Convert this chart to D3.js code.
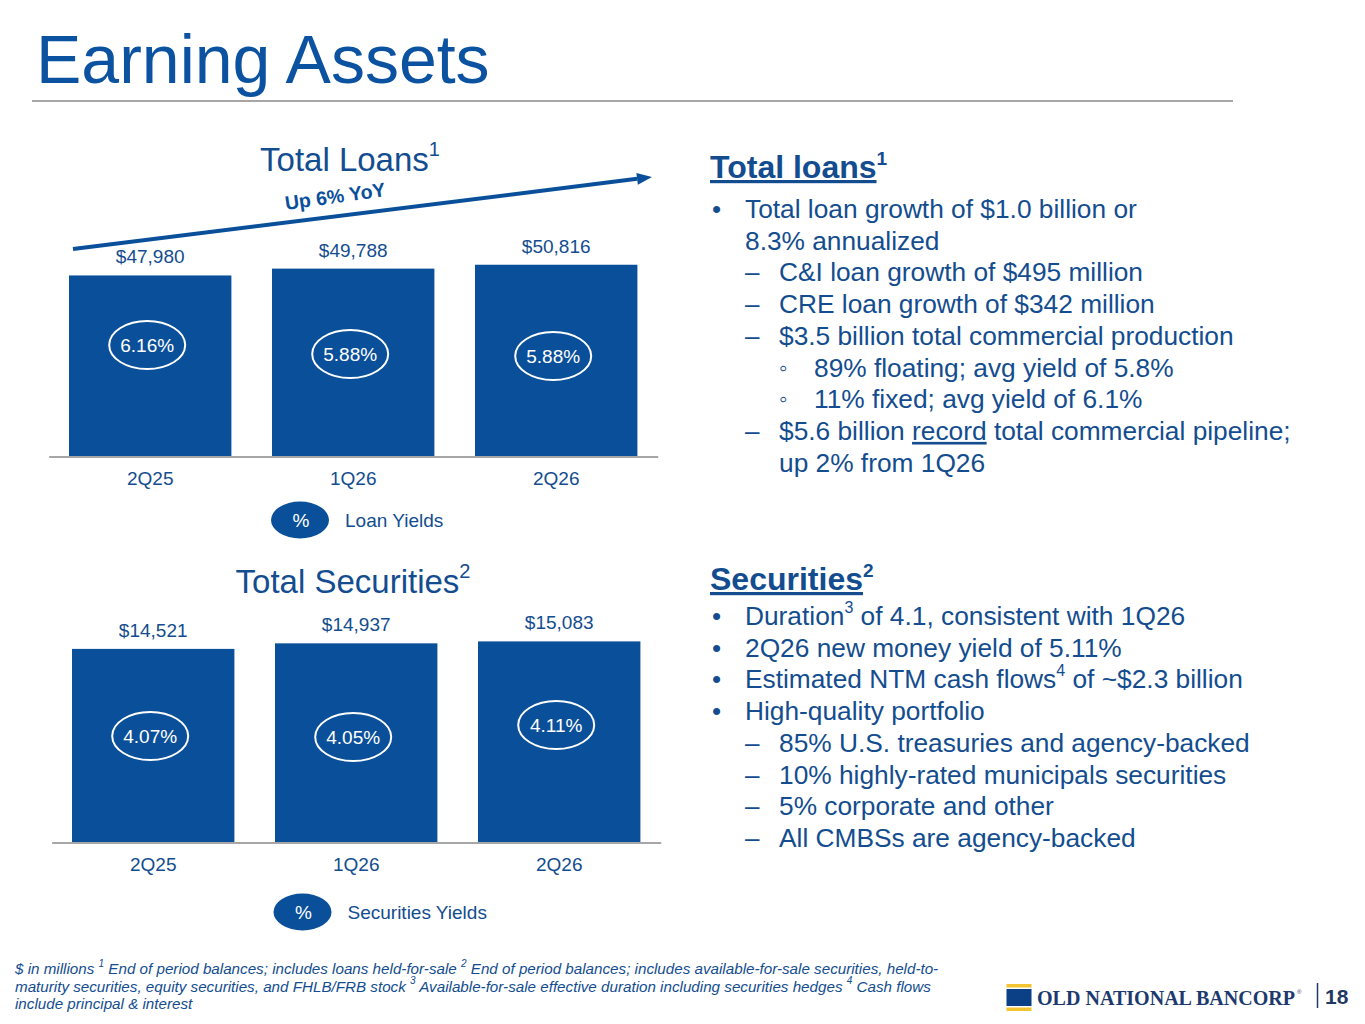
<!DOCTYPE html>
<html><head><meta charset="utf-8">
<script src="https://cdn.jsdelivr.net/npm/d3@7/dist/d3.min.js"></script>
<style>
html,body{margin:0;padding:0;background:#fff;}
svg{display:block;font-family:"Liberation Sans",Arial,sans-serif;}
</style></head>
<body>
<svg id="c" width="1365" height="1024"></svg>
<script>
// ---------- DATA ----------
const categories = ["2Q25", "1Q26", "2Q26"];
const loanValues = [47980, 49788, 50816];
const loanYields = [6.16, 5.88, 5.88];
const securitiesValues = [14521, 14937, 15083];
const securitiesYields = [4.07, 4.05, 4.11];
const growthLabel = "Up 6% YoY";

const loanBullets = [
  {lvl:0, parts:[["Total loan growth of $1.0 billion or"]]},
  {lvl:0, cont:true, parts:[["8.3% annualized"]]},
  {lvl:1, parts:[["C&I loan growth of $495 million"]]},
  {lvl:1, parts:[["CRE loan growth of $342 million"]]},
  {lvl:1, parts:[["$3.5 billion total commercial production"]]},
  {lvl:2, parts:[["89% floating; avg yield of 5.8%"]]},
  {lvl:2, parts:[["11% fixed; avg yield of 6.1%"]]},
  {lvl:1, parts:[["$5.6 billion "],["record","u"],[" total commercial pipeline;"]]},
  {lvl:1, cont:true, parts:[["up 2% from 1Q26"]]}
];
const securitiesBullets = [
  {lvl:0, parts:[["Duration"],["3","sup"],[" of 4.1, consistent with 1Q26"]]},
  {lvl:0, parts:[["2Q26 new money yield of 5.11%"]]},
  {lvl:0, parts:[["Estimated NTM cash flows"],["4","sup"],[" of ~$2.3 billion"]]},
  {lvl:0, parts:[["High-quality portfolio"]]},
  {lvl:1, parts:[["85% U.S. treasuries and agency-backed"]]},
  {lvl:1, parts:[["10% highly-rated municipals securities"]]},
  {lvl:1, parts:[["5% corporate and other"]]},
  {lvl:1, parts:[["All CMBSs are agency-backed"]]}
];
const footnoteLines = [
  [["$ in millions "],["1","sup"],[" End of period balances; includes loans held-for-sale "],["2","sup"],[" End of period balances; includes available-for-sale securities, held-to-"]],
  [["maturity securities, equity securities, and FHLB/FRB stock "],["3","sup"],[" Available-for-sale effective duration including securities hedges "],["4","sup"],[" Cash flows"]],
  [["include principal & interest"]]
];

// ---------- STYLE ----------
const BLUE = "#0A4F9A";
const TXT = "#134D8F";
const GRAY = "#A6A6A6";

const svg = d3.select("#c");

// Title
svg.append("text").attr("x", 36).attr("y", 83).attr("font-size", 68)
  .attr("fill", "#0B52A0").text("Earning Assets");
svg.append("line").attr("x1", 32).attr("x2", 1233).attr("y1", 101).attr("y2", 101)
  .attr("stroke", GRAY).attr("stroke-width", 2);

function addParts(textSel, parts, supSize) {
  let pending = 0;
  parts.forEach(p => {
    const ts = textSel.append("tspan").text(p[0]);
    if (p[1] === "sup") {
      ts.attr("font-size", supSize).attr("dy", -supSize * 0.75 + pending);
      pending = supSize * 0.75;
    } else {
      if (pending) { ts.attr("dy", pending); pending = 0; }
      if (p[1] === "u") ts.attr("text-decoration", "underline");
    }
  });
}

// ---------- BAR CHART ----------
function barChart(cfg) {
  const g = svg.append("g");
  const x = d3.scaleBand().domain(categories).range(cfg.xRange)
    .paddingInner(0.2).paddingOuter(0.1);
  const y = d3.scaleLinear().domain([0, cfg.unit * 100]).range([cfg.y0, cfg.y0 - 100 * cfg.unit / cfg.perPx]);

  // chart title
  const t = g.append("text").attr("x", cfg.titleX).attr("y", cfg.titleY)
    .attr("text-anchor", "middle").attr("font-size", 33).attr("fill", TXT);
  addParts(t, [[cfg.title], [cfg.titleSup, "sup"]], 20);

  const data = cfg.values.map((v, i) => ({cat: categories[i], v, yl: cfg.yields[i], i}));

  g.selectAll("rect.bar").data(data).join("rect").attr("class", "bar")
    .attr("x", d => x(d.cat)).attr("width", x.bandwidth())
    .attr("y", d => y(d.v)).attr("height", d => y(0) - y(d.v))
    .attr("fill", BLUE);

  g.selectAll("text.val").data(data).join("text").attr("class", "val")
    .attr("x", d => x(d.cat) + x.bandwidth() / 2).attr("y", d => y(d.v) - 12)
    .attr("text-anchor", "middle").attr("font-size", 19).attr("fill", TXT)
    .text(d => "$" + d3.format(",")(d.v));

  // yield badges
  const badge = g.selectAll("g.badge").data(data).join("g").attr("class", "badge")
    .attr("transform", d => `translate(${x(d.cat) + x.bandwidth() / 2 - 3},${cfg.badgeY + cfg.badgeNudge[d.i]})`);
  badge.append("ellipse").attr("rx", 38).attr("ry", 24)
    .attr("fill", "none").attr("stroke", "#fff").attr("stroke-width", 2);
  badge.append("text").attr("text-anchor", "middle").attr("y", 6.5)
    .attr("font-size", 19).attr("fill", "#fff").text(d => d3.format(".2f")(d.yl) + "%");

  // axis
  const ax = g.append("g").attr("transform", `translate(0,${cfg.y0})`)
    .call(d3.axisBottom(x).tickSize(0).tickPadding(15));
  ax.select(".domain").attr("stroke", GRAY).attr("stroke-width", 2);
  ax.selectAll(".tick text").attr("font-size", 19).attr("fill", TXT)
    .attr("font-family", "Liberation Sans, Arial, sans-serif");

  // legend
  const lg = g.append("g").attr("transform", `translate(${cfg.legendX},${cfg.legendY})`);
  lg.append("ellipse").attr("rx", 29).attr("ry", 18.5).attr("fill", BLUE);
  lg.append("text").attr("text-anchor", "middle").attr("x", 1).attr("y", 6.5)
    .attr("font-size", 19).attr("fill", "#fff").text("%");
  lg.append("text").attr("x", 45).attr("y", 6.5).attr("font-size", 19).attr("fill", TXT)
    .text(cfg.legendText);
  return {x, y};
}

barChart({
  title: "Total Loans", titleSup: "1", titleX: 350, titleY: 171,
  values: loanValues, yields: loanYields, xRange: [48.7, 657.7], y0: 456.5,
  unit: 600, perPx: 265, badgeY: 345, badgeNudge: [0, 9, 11],
  legendX: 300, legendY: 520, legendText: "Loan Yields"
});
barChart({
  title: "Total Securities", titleSup: "2", titleX: 353, titleY: 593,
  values: securitiesValues, yields: securitiesYields, xRange: [51.7, 660.7], y0: 842.5,
  unit: 150, perPx: 75, badgeY: 736, badgeNudge: [0, 1, -11],
  legendX: 302.5, legendY: 912, legendText: "Securities Yields"
});

// growth arrow
(function () {
  const x1 = 73, y1 = 249, x2 = 652, y2 = 177;
  const ang = Math.atan2(y2 - y1, x2 - x1);
  const hl = 15, hw = 6;
  const bx = x2 - hl * Math.cos(ang), by = y2 - hl * Math.sin(ang);
  svg.append("line").attr("x1", x1).attr("y1", y1).attr("x2", bx).attr("y2", by)
    .attr("stroke", BLUE).attr("stroke-width", 4);
  const px = -Math.sin(ang), py = Math.cos(ang);
  svg.append("polygon").attr("points",
    [[x2, y2], [bx + px * hw, by + py * hw], [bx - px * hw, by - py * hw]].map(p => p.join(",")).join(" "))
    .attr("fill", BLUE);
  svg.append("text").attr("transform", "translate(336,203) rotate(-8)")
    .attr("text-anchor", "middle").attr("font-size", 19.5).attr("font-weight", "bold")
    .attr("fill", BLUE).text(growthLabel);
})();

// ---------- RIGHT PANEL ----------
function panel(heading, sup, hy, lines, y0) {
  const h = svg.append("text").attr("x", 710).attr("y", hy).attr("font-size", 32)
    .attr("font-weight", "bold").attr("fill", TXT);
  h.append("tspan").attr("text-decoration", "underline").text(heading);
  h.append("tspan").attr("font-size", 19).attr("dy", -13).text(sup);
  const bx = [712, 745, 779], tx = [745, 779, 814], sym = ["\u2022", "\u2013", "\u25E6"];
  lines.forEach((l, i) => {
    const y = y0 + i * 31.7;
    if (!l.cont) {
      svg.append("text").attr("x", bx[l.lvl]).attr("y", y - (l.lvl === 2 ? 1 : 0))
        .attr("font-size", l.lvl === 2 ? 24 : 26).attr("fill", TXT).text(sym[l.lvl]);
    }
    const t = svg.append("text").attr("x", tx[l.lvl]).attr("y", y)
      .attr("font-size", 26.3).attr("fill", TXT);
    addParts(t, l.parts, 16);
  });
}
panel("Total loans", "1", 178, loanBullets, 218);
panel("Securities", "2", 590, securitiesBullets, 625);

// ---------- FOOTER ----------
footnoteLines.forEach((parts, i) => {
  const t = svg.append("text").attr("x", 15).attr("y", 974 + i * 17.6)
    .attr("font-size", 15.2).attr("font-style", "italic").attr("fill", TXT);
  addParts(t, parts, 10);
});

// logo
svg.append("rect").attr("x", 1006.5).attr("y", 984).attr("width", 25).attr("height", 3.5).attr("fill", "#F3C432");
svg.append("rect").attr("x", 1006.5).attr("y", 989).attr("width", 25).attr("height", 17).attr("fill", "#0B3F86");
svg.append("rect").attr("x", 1006.5).attr("y", 1007.5).attr("width", 25).attr("height", 3.5).attr("fill", "#F3C432");
svg.append("text").attr("x", 1037).attr("y", 1004.5).attr("font-family", "Liberation Serif, Times New Roman, serif")
  .attr("font-weight", "bold").attr("font-size", 20).attr("fill", "#1C3A6E")
  .attr("textLength", 258).attr("lengthAdjust", "spacingAndGlyphs").text("OLD NATIONAL BANCORP");
svg.append("text").attr("x", 1297).attr("y", 994).attr("font-size", 6).attr("fill", "#1C3A6E").text("\u00AE");
svg.append("line").attr("x1", 1317.5).attr("x2", 1317.5).attr("y1", 983).attr("y2", 1008)
  .attr("stroke", "#1C3A6E").attr("stroke-width", 1.5);
svg.append("text").attr("x", 1325).attr("y", 1003.5).attr("font-size", 21).attr("font-weight", "bold")
  .attr("fill", "#1F3864").text("18");
</script>
</body></html>
